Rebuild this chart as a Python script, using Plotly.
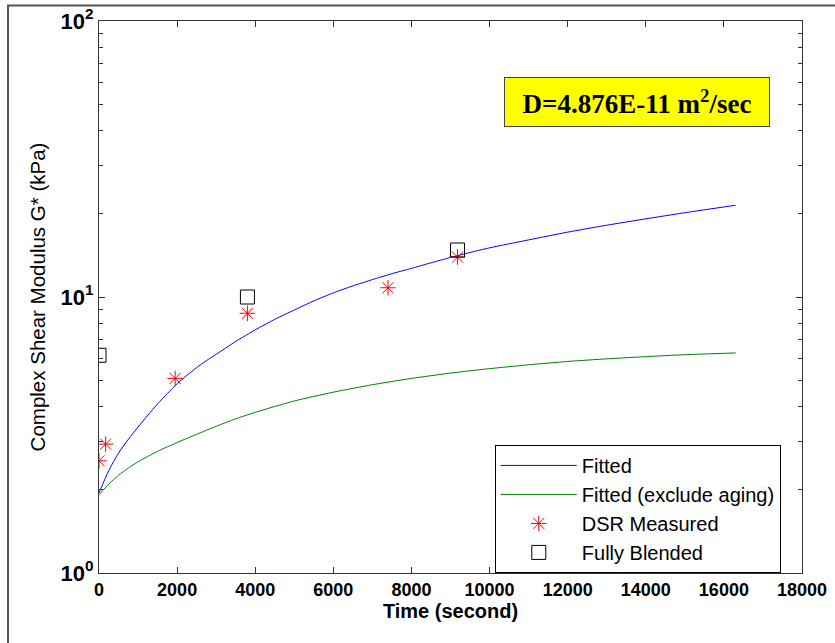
import plotly.graph_objects as go

# ---- data ----
fit_t = [0, 250, 500, 750, 1000, 1250, 1500, 1750, 2000, 2250, 2500, 2750, 3000,
         3500, 4000, 4500, 5000, 5500, 6000, 6500, 7000, 7500, 8000, 8500, 9000,
         9500, 10000, 11000, 12000, 13000, 14000, 15000, 16300]
fit_g = [1.95, 2.35, 2.72, 3.05, 3.38, 3.73, 4.1, 4.47, 4.85, 5.2, 5.55, 5.88, 6.2,
         6.9, 7.6, 8.3, 8.97, 9.68, 10.35, 10.97, 11.56, 12.15, 12.7, 13.3, 13.9,
         14.5, 15.07, 16.1, 17.18, 18.2, 19.19, 20.2, 21.5]

noage_t = [0, 250, 500, 750, 1000, 1500, 2000, 2500, 3000, 3500, 4000, 5000, 6000,
           7000, 8000, 9000, 10000, 11000, 12000, 13000, 14000, 15000, 16300]
noage_g = [1.92, 2.1, 2.26, 2.4, 2.53, 2.76, 2.97, 3.18, 3.4, 3.62, 3.82, 4.2, 4.52,
           4.81, 5.07, 5.3, 5.5, 5.68, 5.84, 5.97, 6.08, 6.18, 6.27]

dsr_t = [0, 170, 1950, 3800, 7400, 9180]
dsr_g = [2.55, 2.93, 5.07, 8.73, 10.8, 13.95]

blend_t = [0, 3800, 9180]
blend_g = [6.15, 10.0, 14.8]

x_ticks = [0, 2000, 4000, 6000, 8000, 10000, 12000, 14000, 16000, 18000]
x_ticktext = ["0", "2000", "4000", "6000", "8000", "10000", "12000", "14000", "16000", "18000"]
y_tickvals = [1, 10, 100]
y_ticktext = ["10<sup>0</sup>", "10<sup>1</sup>", "10<sup>2</sup>"]

NARROW = "Liberation Sans Narrow, Arial Narrow, Liberation Sans, Arial"
SANS = "Liberation Sans, Arial"

fig = go.Figure()
fig.add_trace(go.Scatter(x=fit_t, y=fit_g, mode="lines", name="Fitted",
                         line=dict(color="rgb(0,0,255)", width=1, shape="spline", smoothing=0.6)))
fig.add_trace(go.Scatter(x=noage_t, y=noage_g, mode="lines", name="Fitted (exclude aging)",
                         line=dict(color="rgb(0,128,0)", width=1, shape="spline", smoothing=0.6)))
fig.add_trace(go.Scatter(x=dsr_t, y=dsr_g, mode="markers", name="DSR Measured",
                         marker=dict(symbol="asterisk-open", size=13,
                                     line=dict(color="red", width=1), color="red")))
fig.add_trace(go.Scatter(x=blend_t, y=blend_g, mode="markers", name="Fully Blended",
                         marker=dict(symbol="square-open", size=14, color="black",
                                     line=dict(color="black", width=1))))

fig.update_layout(
    width=835, height=643,
    margin=dict(l=99, r=33, t=21, b=70, pad=0, autoexpand=False),
    paper_bgcolor="white", plot_bgcolor="white",
    showlegend=True,
    legend=dict(x=0.563, y=0.232, xanchor="left", yanchor="top",
                bordercolor="black", borderwidth=1, bgcolor="white",
                font=dict(family=SANS, size=20, color="black"),
                itemwidth=76, tracegroupgap=0),
    xaxis=dict(range=[0, 18000], tickvals=x_ticks, ticktext=x_ticktext,
               ticks="inside", ticklen=6, automargin=False,
               tickcolor="#333", showline=True, linecolor="#333", linewidth=1,
               mirror="ticks", showgrid=False, zeroline=False,
               tickfont=dict(family=NARROW, size=18, color="black", weight="bold"),
               title=dict(text="<b>Time (second)</b>", standoff=4,
                          font=dict(family=NARROW, size=20, color="black"))),
    yaxis=dict(type="log", range=[0, 2], tickvals=y_tickvals, ticktext=y_ticktext,
               ticks="inside", ticklen=6, tickcolor="#333", automargin=False,
               minor=dict(ticks="inside", ticklen=4, tickcolor="#333", dtick="D1", showgrid=False),
               showline=True, linecolor="#333", linewidth=1, mirror="ticks",
               showgrid=False, zeroline=False,
               tickfont=dict(family=NARROW, size=22, color="black", weight="bold"),
               title=dict(text="Complex Shear Modulus G* (kPa)", standoff=9,
                          font=dict(family=SANS, size=20.5, color="black"))),
    annotations=[dict(xref="paper", yref="paper", x=0.765, y=0.8526,
                      xanchor="center", yanchor="middle", showarrow=False,
                      text="<b>D=4.876E-11 m<sup>2</sup>/sec</b>",
                      font=dict(family="Liberation Serif, Times New Roman", size=27, color="black"),
                      bgcolor="yellow", bordercolor="#444", borderwidth=1,
                      width=262, height=46, borderpad=1)],
    shapes=[dict(type="rect", xref="paper", yref="paper",
                 x0=-0.1294, y0=-0.3, x1=1.2, y1=1.028,
                 line=dict(color="#555", width=2), fillcolor="rgba(0,0,0,0)", layer="below")],
)

fig.write_html(
    "out.html",
    config={"displayModeBar": False},
    post_script=(
        "document.body.style.margin='0';document.body.style.padding='0';"
        "var d=document.getElementById('{plot_id}');"
        "d.style.position='absolute';d.style.top='0px';d.style.left='0px';"
    ),
)
